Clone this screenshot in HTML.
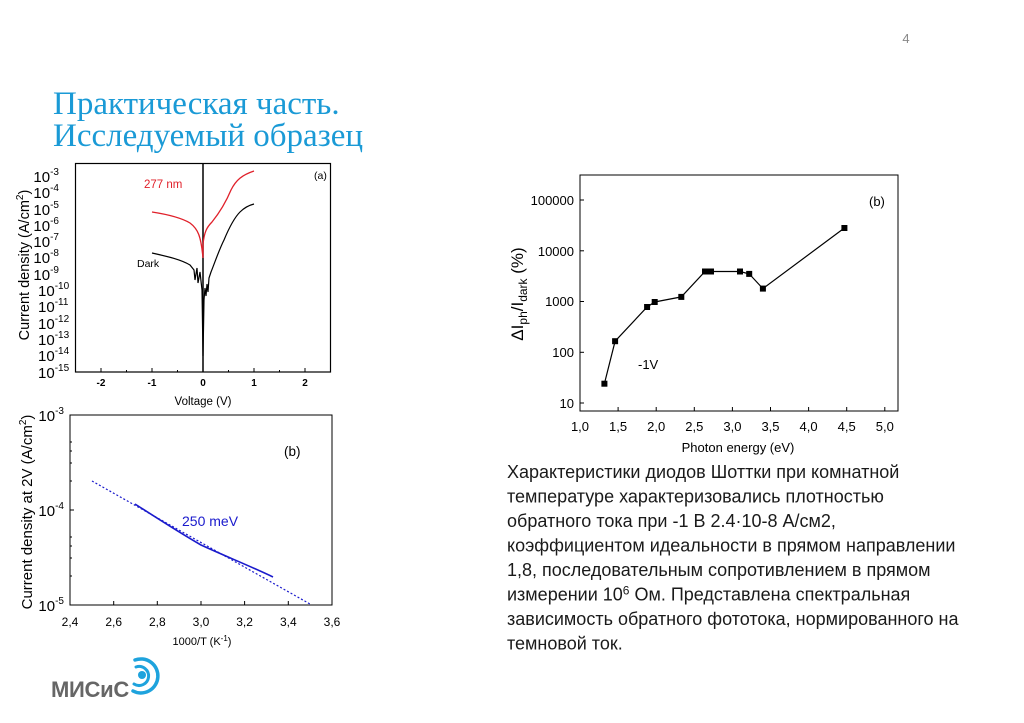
<!DOCTYPE html>
<html><head><meta charset="utf-8">
<style>
html,body{margin:0;padding:0;background:#fff;}
svg{display:block;}
.t{font-family:"Liberation Sans","DejaVu Sans",sans-serif;}
</style></head><body>
<svg width="1024" height="723" viewBox="0 0 1024 723" xmlns="http://www.w3.org/2000/svg" class="t">
<rect width="1024" height="723" fill="#fff"/>
<text x="906" y="43" font-size="13" fill="#888" text-anchor="middle">4</text>
<g font-family="Liberation Serif,serif" font-size="33" fill="#1a9ad6">
<text x="53" y="114">Практическая часть.</text>
<text x="53" y="146">Исследуемый образец</text>
</g>

<!-- Chart (a) -->
<g>
<rect x="75.5" y="163.5" width="255" height="208.5" fill="none" stroke="#000" stroke-width="1.2"/>
<line x1="203" y1="163.5" x2="203" y2="372" stroke="#000" stroke-width="1.5"/>
<g stroke="#000" stroke-width="1">
<line x1="101" y1="372" x2="101" y2="368"/><line x1="152" y1="372" x2="152" y2="368"/><line x1="254" y1="372" x2="254" y2="368"/><line x1="305" y1="372" x2="305" y2="368"/>
<line x1="126.5" y1="372" x2="126.5" y2="370"/><line x1="177.5" y1="372" x2="177.5" y2="370"/><line x1="228.5" y1="372" x2="228.5" y2="370"/><line x1="279.5" y1="372" x2="279.5" y2="370"/>
</g>
<g font-size="10" font-weight="bold" text-anchor="middle">
<text x="101" y="386">-2</text><text x="152" y="386">-1</text><text x="203" y="386">0</text><text x="254" y="386">1</text><text x="305" y="386">2</text>
</g>
<text x="203" y="405" font-size="11.5" text-anchor="middle">Voltage (V)</text>
<g font-size="15" text-anchor="end">
<text x="59" y="182">10<tspan dy="-7" font-size="10">-3</tspan></text>
<text x="59" y="198">10<tspan dy="-7" font-size="10">-4</tspan></text>
<text x="59" y="215">10<tspan dy="-7" font-size="10">-5</tspan></text>
<text x="59" y="231">10<tspan dy="-7" font-size="10">-6</tspan></text>
<text x="59" y="247">10<tspan dy="-7" font-size="10">-7</tspan></text>
<text x="59" y="263">10<tspan dy="-7" font-size="10">-8</tspan></text>
<text x="59" y="280">10<tspan dy="-7" font-size="10">-9</tspan></text>
</g>
<g font-size="15" text-anchor="start">
<text x="38" y="296">10<tspan dy="-7" font-size="10">-10</tspan></text>
<text x="38" y="312">10<tspan dy="-7" font-size="10">-11</tspan></text>
<text x="38" y="329">10<tspan dy="-7" font-size="10">-12</tspan></text>
<text x="38" y="345">10<tspan dy="-7" font-size="10">-13</tspan></text>
<text x="38" y="361">10<tspan dy="-7" font-size="10">-14</tspan></text>
<text x="38" y="378">10<tspan dy="-7" font-size="10">-15</tspan></text>
</g>
<text transform="translate(29,265) rotate(-90)" font-size="14.5" text-anchor="middle">Current density (A/cm<tspan dy="-6" font-size="10">2</tspan><tspan dy="6">)</tspan></text>
<text x="314" y="179" font-size="10.5">(a)</text>
<text x="144" y="188" font-size="11.5" fill="#e0202a">277 nm</text>
<text x="137" y="267" font-size="10.5">Dark</text>
<path d="M152,212 C165,214 180,217 190,223 C198,229 201,236 203,258 L203,245 C204,232 207,227 212,222 C220,212 226,202 231,190 C236,180 242,175 254,171" fill="none" stroke="#e0202a" stroke-width="1.3"/>
<path d="M152,253 C165,256 180,259 190,265 L194,270 L195,280 L197,268 L198,283 L200,272 L202,290 L203,356 L204,300 L205,288 L206,296 L207,284 L208,292 L209,278 L211,272 C215,262 219,250 224,240 C229,228 234,218 240,212 C245,207 250,205 254,204" fill="none" stroke="#000" stroke-width="1.2"/>
</g>

<!-- Chart lower (b) -->
<g>
<rect x="70" y="415" width="262" height="190" fill="none" stroke="#000" stroke-width="1"/>
<g stroke="#000" stroke-width="1">
<line x1="113.7" y1="605" x2="113.7" y2="601"/><line x1="157.3" y1="605" x2="157.3" y2="601"/><line x1="201" y1="605" x2="201" y2="601"/><line x1="244.6" y1="605" x2="244.6" y2="601"/><line x1="288.3" y1="605" x2="288.3" y2="601"/>
<line x1="70" y1="510" x2="74" y2="510"/>
<line x1="70" y1="481" x2="72" y2="481"/><line x1="70" y1="463" x2="72" y2="463"/><line x1="70" y1="451" x2="72" y2="451"/><line x1="70" y1="442" x2="72" y2="442"/>
<line x1="70" y1="576" x2="72" y2="576"/><line x1="70" y1="558" x2="72" y2="558"/><line x1="70" y1="546" x2="72" y2="546"/><line x1="70" y1="537" x2="72" y2="537"/>
</g>
<g font-size="12" text-anchor="middle">
<text x="70" y="626">2,4</text><text x="113.7" y="626">2,6</text><text x="157.3" y="626">2,8</text><text x="201" y="626">3,0</text><text x="244.6" y="626">3,2</text><text x="288.3" y="626">3,4</text><text x="332" y="626">3,6</text>
</g>
<text x="202" y="645" font-size="11" text-anchor="middle">1000/T (K<tspan dy="-4" font-size="8">-1</tspan><tspan dy="4">)</tspan></text>
<g font-size="15" text-anchor="end">
<text x="64" y="421">10<tspan dy="-7" font-size="10">-3</tspan></text>
<text x="64" y="516">10<tspan dy="-7" font-size="10">-4</tspan></text>
<text x="64" y="611">10<tspan dy="-7" font-size="10">-5</tspan></text>
</g>
<text transform="translate(32,512) rotate(-90)" font-size="15" text-anchor="middle">Current density at 2V (A/cm<tspan dy="-6" font-size="10">2</tspan><tspan dy="6">)</tspan></text>
<text x="284" y="456" font-size="13.5">(b)</text>
<text x="182" y="526" font-size="14" fill="#1a1acc">250 meV</text>
<line x1="92" y1="481" x2="310" y2="604" stroke="#1a1acc" stroke-width="1.2" stroke-dasharray="2,2"/>
<path d="M135,504 C160,520 180,533 201,545 C225,556 250,566 273,577" fill="none" stroke="#1a1acc" stroke-width="1.6"/>
</g>

<!-- Chart right -->
<g>
<rect x="580" y="175" width="318" height="236" fill="none" stroke="#000" stroke-width="1"/>
<g stroke="#000" stroke-width="1">
<line x1="618.1" y1="411" x2="618.1" y2="407"/><line x1="656.2" y1="411" x2="656.2" y2="407"/><line x1="694.3" y1="411" x2="694.3" y2="407"/><line x1="732.4" y1="411" x2="732.4" y2="407"/><line x1="770.5" y1="411" x2="770.5" y2="407"/><line x1="808.6" y1="411" x2="808.6" y2="407"/><line x1="846.7" y1="411" x2="846.7" y2="407"/><line x1="884.8" y1="411" x2="884.8" y2="407"/>
<line x1="580" y1="403" x2="584" y2="403"/><line x1="580" y1="352.3" x2="584" y2="352.3"/><line x1="580" y1="301.5" x2="584" y2="301.5"/><line x1="580" y1="250.8" x2="584" y2="250.8"/><line x1="580" y1="200" x2="584" y2="200"/>
</g>
<g font-size="13" text-anchor="middle">
<text x="580" y="431">1,0</text><text x="618.1" y="431">1,5</text><text x="656.2" y="431">2,0</text><text x="694.3" y="431">2,5</text><text x="732.4" y="431">3,0</text><text x="770.5" y="431">3,5</text><text x="808.6" y="431">4,0</text><text x="846.7" y="431">4,5</text><text x="884.8" y="431">5,0</text>
</g>
<g font-size="13" text-anchor="end">
<text x="574" y="408">10</text><text x="574" y="357">100</text><text x="574" y="306">1000</text><text x="574" y="256">10000</text><text x="574" y="205">100000</text>
</g>
<text transform="translate(523,294) rotate(-90)" font-size="17" text-anchor="middle">ΔI<tspan dy="4" font-size="12">ph</tspan><tspan dy="-4">/I</tspan><tspan dy="4" font-size="12">dark</tspan><tspan dy="-4"> (%)</tspan></text>
<text x="738" y="452" font-size="13" text-anchor="middle">Photon energy (eV)</text>
<text x="869" y="206" font-size="13">(b)</text>
<text x="638" y="369" font-size="13">-1V</text>
<polyline points="604.4,383.7 615.1,341.2 647.1,307 654.7,302 681.3,296.9 705,271.5 711,271.5 740,271.5 749.2,273.9 762.9,288.6 844.4,228" fill="none" stroke="#000" stroke-width="1.2"/>
<g fill="#000">
<rect x="601.4" y="380.7" width="6" height="6"/><rect x="612.1" y="338.2" width="6" height="6"/><rect x="644.1" y="304" width="6" height="6"/><rect x="651.7" y="299" width="6" height="6"/><rect x="678.3" y="293.9" width="6" height="6"/><rect x="702" y="268.5" width="6" height="6"/><rect x="708" y="268.5" width="6" height="6"/><rect x="737" y="268.5" width="6" height="6"/><rect x="746.2" y="270.9" width="6" height="6"/><rect x="759.9" y="285.6" width="6" height="6"/><rect x="841.4" y="225" width="6" height="6"/>
</g>
</g>

<g font-size="18" fill="#1a1a1a">
<text x="507" y="478">Характеристики диодов Шоттки при комнатной</text>
<text x="507" y="502.5">температуре характеризовались плотностью</text>
<text x="507" y="527">обратного тока при -1 В 2.4·10-8 А/см2,</text>
<text x="507" y="551.5">коэффициентом идеальности в прямом направлении</text>
<text x="507" y="576">1,8, последовательным сопротивлением в прямом</text>
<text x="507" y="600.5">измерении 10<tspan dy="-6" font-size="12">6</tspan><tspan dy="6"> Ом. Представлена спектральная</tspan></text>
<text x="507" y="625">зависимость обратного фототока, нормированного на</text>
<text x="507" y="649.5">темновой ток.</text>
</g>

<!-- logo -->
<text x="51" y="697" font-size="22" font-weight="bold" fill="#666" letter-spacing="-0.3">МИСиС</text>
<g fill="none" stroke="#1ea3dd" stroke-linecap="round">
<path d="M135,660 A17,17 0 1 1 133,691" stroke-width="3.5"/>
<path d="M136,667 A9.5,9.5 0 1 1 134,684" stroke-width="3"/>
</g>
<circle cx="142" cy="675" r="4" fill="#1ea3dd"/>
</svg>
</body></html>
